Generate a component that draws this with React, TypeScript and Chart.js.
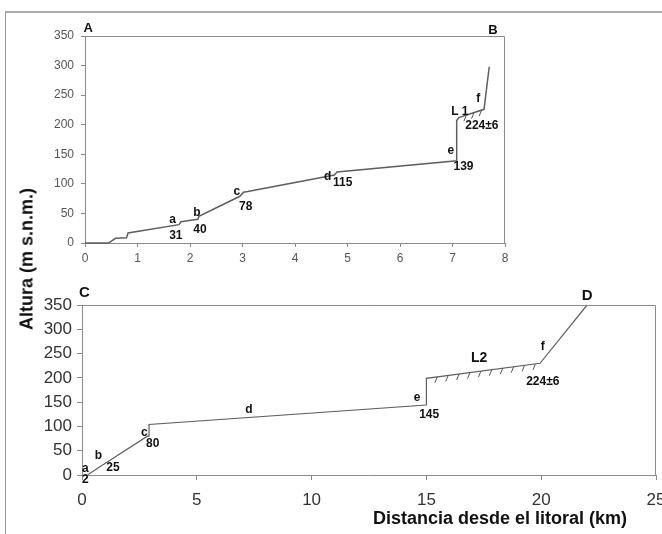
import React, { useEffect, useRef } from "react";
import Chart from "chart.js/auto";

// ---- Profile A-B (top) ----
const topDist = [0, 0.45, 0.58, 0.79, 0.82, 1.79, 1.83, 2.05, 2.15, 2.17, 2.95, 3.02, 3.1, 4.75, 4.8, 7.08, 7.08, 7.12, 7.6, 7.7];
const topAlt = [0, 0, 8, 9, 17, 31, 36, 39, 40, 45, 79, 86, 87, 115, 120, 139, 207, 212, 226, 298];
const topLabelText = ["a", "31", "b", "40", "c", "78", "d", "115", "e", "139", "L 1", "f", "224±6", "A", "B"];
const topLabelX = [1.67, 1.73, 2.13, 2.19, 2.89, 3.06, 4.62, 4.91, 6.97, 7.21, 7.14, 7.49, 7.56, 0.06, 7.77];
const topLabelY = [39, 12, 51, 22, 87, 61, 112, 102, 156, 129, 222, 244, 199, 363, 359];
const topHatchSeg = [17, 18]; // L1 terrace between these profile points

// ---- Profile C-D (bottom) ----
const botDist = [0.25, 0.3, 1.05, 2.85, 2.92, 2.92, 15, 15, 19.95, 22];
const botAlt = [1, 2, 25, 80, 80, 104, 144, 199, 230, 350];
const botLabelText = ["a", "2", "b", "25", "c", "80", "d", "e", "145", "L2", "f", "224±6", "C", "D"];
const botLabelX = [0.14, 0.14, 0.72, 1.35, 2.72, 3.08, 7.27, 14.59, 15.12, 17.3, 20.07, 20.07, 0.1, 22];
const botLabelY = [14, -10, 39, 16, 87, 65, 135, 160, 124, 240, 264, 192, 375, 369];
const botHatchSeg = [7, 8]; // L2 terrace

const FONT = "'Liberation Sans', Arial, sans-serif";

function overlayPlugin(texts: string[], xs: number[], ys: number[], seg: number[], dist: number[], alt: number[], spacing: number, sizes: Record<string, number>, base: number) {
  return {
    id: "overlay",
    afterDatasetsDraw(chart: any) {
      const { ctx, chartArea, scales } = chart;
      const { left, top, right, bottom } = chartArea;
      const sx = scales.x, sy = scales.y;
      ctx.save();
      ctx.strokeStyle = "#8a8a8a";
      ctx.lineWidth = 1;
      ctx.beginPath();
      ctx.moveTo(left, top + 0.5);
      ctx.lineTo(right - 0.5, top + 0.5);
      ctx.lineTo(right - 0.5, bottom);
      ctx.stroke();
      // hatches under terrace
      const x0 = sx.getPixelForValue(dist[seg[0]]);
      const y0 = sy.getPixelForValue(alt[seg[0]]);
      const x1 = sx.getPixelForValue(dist[seg[1]]);
      const y1 = sy.getPixelForValue(alt[seg[1]]);
      const len = Math.hypot(x1 - x0, y1 - y0);
      const n = Math.floor(len / spacing);
      ctx.strokeStyle = "#555";
      ctx.lineWidth = 1;
      ctx.beginPath();
      for (let i = 1; i <= n; i++) {
        const t = (i * spacing) / len;
        const px = x0 + (x1 - x0) * t;
        const py = y0 + (y1 - y0) * t;
        ctx.moveTo(px, py);
        ctx.lineTo(px - 2.5, py + 6);
      }
      ctx.stroke();
      // labels
      ctx.fillStyle = "#111";
      ctx.textAlign = "center";
      ctx.textBaseline = "middle";
      texts.forEach((t, i) => {
        ctx.font = "bold " + (sizes[t] || base) + "px " + FONT;
        ctx.fillText(t, sx.getPixelForValue(xs[i]), sy.getPixelForValue(ys[i]));
      });
      ctx.restore();
    },
  };
}

function makeConfig(dist: number[], alt: number[], xmax: number, xstep: number, tickFont: number, tickColor: string, yWidth: number, xHeight: number, padding: any, tickLen: number, xPad: number, yPad: number, lineWidth: number, plugin: any) {
  return {
    type: "scatter" as const,
    data: {
      datasets: [
        {
          data: dist.map((d, i) => ({ x: d, y: alt[i] })),
          showLine: true,
          borderColor: "#5f5f5f",
          borderWidth: lineWidth,
          pointRadius: 0,
          tension: 0,
          clip: false,
        },
      ],
    },
    options: {
      animation: false,
      responsive: false,
      layout: { padding },
      plugins: { legend: { display: false }, tooltip: { enabled: false } },
      scales: {
        x: {
          type: "linear",
          min: 0,
          max: xmax,
          afterFit: (s: any) => { s.height = xHeight; },
          ticks: { stepSize: xstep, autoSkip: false, color: tickColor, font: { family: FONT, size: tickFont }, padding: xPad, maxRotation: 0 },
          grid: { display: true, drawOnChartArea: false, drawTicks: true, tickLength: tickLen, color: "#8a8a8a" },
          border: { display: true, color: "#8a8a8a" },
        },
        y: {
          min: 0,
          max: 350,
          afterFit: (s: any) => { s.width = yWidth; },
          ticks: { stepSize: 50, autoSkip: false, color: tickColor, font: { family: FONT, size: tickFont }, padding: yPad },
          grid: { display: true, drawOnChartArea: false, drawTicks: true, tickLength: tickLen, color: "#8a8a8a" },
          border: { display: true, color: "#8a8a8a" },
        },
      },
    },
    plugins: [plugin],
  };
}

export default function App() {
  const topRef = useRef<HTMLCanvasElement>(null);
  const botRef = useRef<HTMLCanvasElement>(null);

  useEffect(() => {
    document.body.style.margin = "0";
    const top = new Chart(
      topRef.current as HTMLCanvasElement,
      makeConfig(topDist, topAlt, 8, 1, 12, "#555", 85, 24, { left: 0, right: 157, top: 36, bottom: 8 }, 4, 4, 7, 1.5,
        overlayPlugin(topLabelText, topLabelX, topLabelY, topHatchSeg, topDist, topAlt, 8, { A: 13, B: 13 }, 12)) as any
    );
    const bot = new Chart(
      botRef.current as HTMLCanvasElement,
      makeConfig(botDist, botAlt, 25, 5, 17, "#333", 82, 30, { left: 0, right: 44, top: 25, bottom: 29 }, 5, 10, 5, 1.2,
        overlayPlugin(botLabelText, botLabelX, botLabelY, botHatchSeg, botDist, botAlt, 11, { L2: 14, C: 15, D: 15 }, 12)) as any
    );
    return () => {
      top.destroy();
      bot.destroy();
    };
  }, []);

  return (
    <div style={{ position: "relative", width: 662, height: 534, overflow: "hidden", background: "#fff", fontFamily: FONT }}>
      <div style={{ position: "absolute", left: 5, top: 11, right: -10, bottom: -10, borderLeft: "1px solid #999", borderTop: "2px solid #aaa" }} />
      <canvas ref={topRef} width={662} height={275} style={{ position: "absolute", left: 0, top: 0 }} />
      <canvas ref={botRef} width={700} height={254} style={{ position: "absolute", left: 0, top: 280 }} />
      <div style={{ position: "absolute", left: 27, top: 259, transform: "translate(-50%, -50%) rotate(-90deg)", whiteSpace: "nowrap", fontWeight: "bold", fontSize: 18, color: "#111" }}>
        Altura (m s.n.m.)
      </div>
      <div style={{ position: "absolute", left: 500, top: 518, transform: "translate(-50%, -50%)", whiteSpace: "nowrap", fontWeight: "bold", fontSize: 18, color: "#111" }}>
        Distancia desde el litoral (km)
      </div>
    </div>
  );
}
